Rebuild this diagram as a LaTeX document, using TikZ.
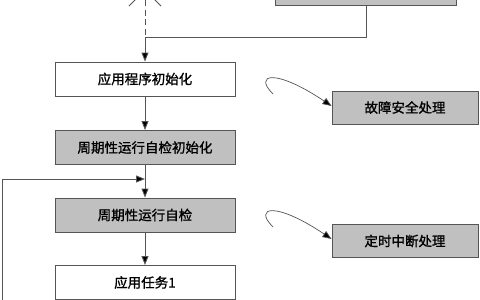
\documentclass[tikz,border=0pt]{standalone}
\usepackage{fontspec}
\setmainfont[FakeBold=1.2,BoldFont={Noto Sans CJK SC}]{Noto Sans CJK SC}
\newfontfamily\cjkbold[FakeBold=1.2]{Noto Sans CJK SC}
\usetikzlibrary{arrows.meta}
\definecolor{boxgray}{HTML}{C0C0C0}
\definecolor{linegray}{HTML}{555555}
\tikzset{
  flowbox/.style={draw=linegray, line width=0.9pt, minimum width=180pt, minimum height=34pt, inner sep=0pt, font=\cjkbold\fontsize{13.5}{15}\selectfont, text=black},
  graybox/.style={flowbox, fill=boxgray},
  whitebox/.style={flowbox, fill=white},
  conn/.style={draw=linegray, line width=0.9pt},
  arr/.style={conn, -{Triangle[length=9pt,width=7pt,fill=black]}}
}
\begin{document}
\begin{tikzpicture}[x=1pt,y=-1pt]
\useasboundingbox (0,0) rectangle (480,300);
\fill[white] (0,0) rectangle (480,300);
% nodes
\node[graybox, minimum width=181pt, minimum height=36pt, anchor=south west] (top) at (275,6) {};
\node[whitebox] (init) at (145,79) {应用程序初始化};
\node[graybox] (ptinit) at (145,147.5) {周期性运行自检初始化};
\node[graybox] (pt) at (145,215) {周期性运行自检};
\node[whitebox, anchor=north] (task) at (145,265) {应用任务1};
\node[graybox, minimum width=146pt, minimum height=33pt] (fail) at (405,107.5) {故障安全处理};
\node[graybox, minimum width=146pt, minimum height=33pt] (timer) at (405,241) {定时中断处理};
% coordinates
\coordinate (dtop) at (145,0);
\coordinate (join) at (145,37);
\coordinate (fbx) at (145,179);
\coordinate (fbl) at (2,179);
\coordinate (fbb) at (2,305);
\coordinate (c1s) at (273,94);
\coordinate (c2s) at (273,227);
\coordinate (apex) at (145,-10);
\coordinate (vl) at (129,6);
\coordinate (vr) at (161,6);
% connectors
\draw[conn] (apex) -- (vl);
\draw[conn] (apex) -- (vr);
\draw[conn, dash pattern=on 6pt off 3.5pt] (dtop) -- (join);
\draw[conn] (top.south) |- (join);
\draw[arr] (join) -- (init.north);
\draw[arr] (init.south) -- (ptinit.north);
\draw[arr] (ptinit.south) -- (pt.north);
\draw[conn] (fbb) -- (fbl);
\draw[arr] (fbl) -- (fbx);
\draw[arr] (pt.south) -- (task.north);
\draw[arr, line width=0.7pt] (c1s) .. controls (253,74) and (275,68) .. (fail.west |- 0,106);
\draw[arr, line width=0.7pt] (c2s) .. controls (253,207) and (275,201) .. (timer.west |- 0,239);
\end{tikzpicture}
\end{document}
